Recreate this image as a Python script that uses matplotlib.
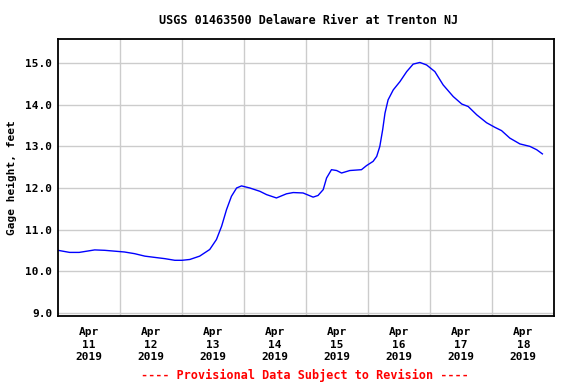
import numpy as np
import matplotlib
matplotlib.use("Agg")
import matplotlib.pyplot as plt

# hours since 2019-04-11 00:00, gage height in feet
hours = [0, 4.5, 8.2, 14.2, 18.1, 21.9, 25.7, 29.6, 33.6, 37.4, 41.3, 45.2, 48,
         51, 54.8, 58.7, 61.3, 63.3, 65.2, 67.1, 69.1, 71, 74.2, 78.1, 80.7,
         84.5, 88.4, 91, 94.8, 98.7, 100.6, 102.6, 103.9, 105.8, 107.8, 109.7,
         112.9, 117.4, 119.4, 121.9, 123.3, 124.5, 125.6, 126.5, 127.7, 129.7,
         132.3, 134.9, 137.4, 140, 142.6, 145.8, 149, 152.9, 156.2, 158.7, 162,
         165.8, 169, 171.6, 174.8, 178.7, 182.6, 185.2, 187.4]
gage = [10.50, 10.45, 10.45, 10.51, 10.50, 10.48, 10.46, 10.42, 10.36, 10.33,
        10.30, 10.26, 10.26, 10.28, 10.36, 10.52, 10.76, 11.08, 11.48, 11.80,
        12.00, 12.05, 12.00, 11.92, 11.84, 11.76, 11.86, 11.89, 11.88, 11.78,
        11.82, 11.96, 12.24, 12.44, 12.42, 12.36, 12.42, 12.44, 12.54, 12.64,
        12.76, 13.00, 13.40, 13.80, 14.12, 14.36, 14.56, 14.80, 14.98, 15.02,
        14.96, 14.80, 14.48, 14.20, 14.02, 13.96, 13.76, 13.57, 13.46, 13.38,
        13.20, 13.06, 13.00, 12.92, 12.82]
day_labels = ["Apr\n11\n2019", "Apr\n12\n2019", "Apr\n13\n2019", "Apr\n14\n2019",
              "Apr\n15\n2019", "Apr\n16\n2019", "Apr\n17\n2019", "Apr\n18\n2019"]
yticks = [9.0, 10.0, 11.0, 12.0, 13.0, 14.0, 15.0]

font = "DejaVu Sans Mono"
fig = plt.figure(figsize=(5.76, 3.84), dpi=100)
ax = fig.add_axes([0.1007, 0.1771, 0.8616, 0.7214])

ax.plot(np.array(hours) / 24.0, gage, color="#0000ff", lw=1.0)

ax.set_xlim(0, 8)
ax.set_ylim(8.92, 15.585)
ax.set_xticks(np.arange(1, 8), minor=False)
ax.set_xticklabels([])
ax.set_xticks(np.arange(8) + 0.5, minor=True)
ax.set_xticklabels(day_labels, minor=True, fontfamily=font, fontweight="bold",
                   fontsize=8, linespacing=1.3)
ax.set_yticks(yticks)
ax.set_yticklabels(["%.1f" % v for v in yticks], fontfamily=font,
                   fontweight="bold", fontsize=8)
ax.tick_params(which="both", length=0, pad=4)
ax.tick_params(axis="x", which="minor", pad=8)
ax.grid(True, which="major", color="#cccccc", lw=1.0)
ax.set_axisbelow(True)
for s in ax.spines.values():
    s.set_linewidth(1.3)

ax.set_ylabel("Gage height, feet", fontfamily=font, fontweight="bold",
              fontsize=8, labelpad=6)
fig.text(0.536, 0.947, "USGS 01463500 Delaware River at Trenton NJ",
         ha="center", va="center", fontfamily=font, fontweight="bold", fontsize=8.5)
fig.text(0.53, 0.022, "---- Provisional Data Subject to Revision ----",
         ha="center", va="center", color="red", fontfamily=font,
         fontweight="bold", fontsize=8.5)

fig.savefig("out.png", dpi=100)
